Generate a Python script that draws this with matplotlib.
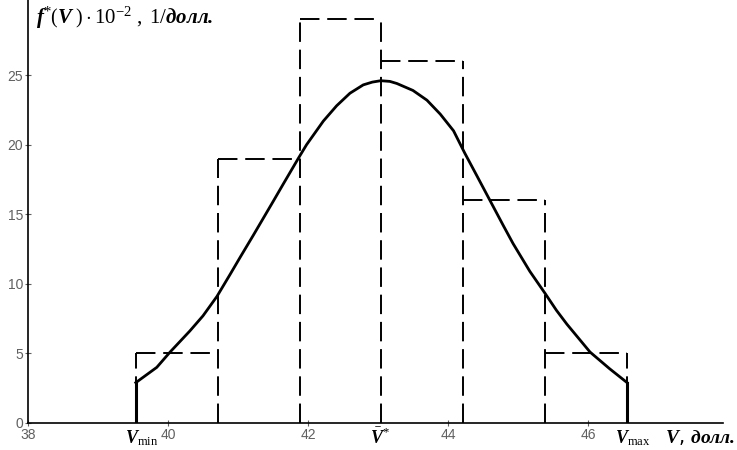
import matplotlib
matplotlib.use("Agg")
import matplotlib.pyplot as plt
import numpy as np

# histogram (bin edges, height in 10^-2 1/долл.)
bin_edges = [39.54, 40.71, 41.88, 43.05, 44.22, 45.39, 46.56]
freq = [5, 19, 29, 26, 16, 5]

# fitted density curve
curve_v = [39.54, 39.84, 40.03, 40.31, 40.50, 40.70, 40.89, 41.03, 41.22, 41.36,
           41.50, 41.65, 41.86, 41.98, 42.22, 42.41, 42.60, 42.79, 42.92, 43.04,
           43.17, 43.27, 43.50, 43.70, 43.89, 44.08, 44.24, 44.41, 44.60, 44.79,
           44.93, 45.17, 45.39, 45.55, 45.70, 46.03, 46.31, 46.56]
curve_f = [2.9, 4.0, 5.1, 6.6, 7.7, 9.1, 10.7, 11.9, 13.5, 14.7,
           15.9, 17.2, 19.0, 20.0, 21.7, 22.8, 23.7, 24.3, 24.5, 24.6,
           24.55, 24.4, 23.9, 23.2, 22.2, 21.0, 19.4, 17.8, 16.0, 14.2,
           12.9, 10.9, 9.3, 8.1, 7.1, 5.1, 3.9, 2.9]

v_min, v_mean, v_max = 39.54, 43.05, 46.56
xticks = [38, 40, 42, 44, 46]
yticks = [0, 5, 10, 15, 20, 25]

plt.rcParams['mathtext.fontset'] = 'custom'
plt.rcParams['mathtext.rm'] = 'Liberation Serif'
plt.rcParams['mathtext.it'] = 'Liberation Serif:italic'
plt.rcParams['mathtext.bf'] = 'Liberation Serif:italic:bold'

fig = plt.figure(figsize=(7.37, 4.5), dpi=100)
ax = fig.add_axes([28 / 737, 27 / 450, 695 / 737, 423 / 450])

# dashed histogram outline: tops and full-height edges
dash = (0, (10, 4))
ax.hlines(freq, bin_edges[:-1], bin_edges[1:], colors='black',
          linewidth=1.4, linestyles=[dash])
edge_h = []
for i in range(len(bin_edges)):
    left = freq[i - 1] if i > 0 else 0
    right = freq[i] if i < len(freq) else 0
    edge_h.append(max(left, right))
ax.vlines(bin_edges, 0, edge_h, colors='black', linewidth=1.4,
          linestyles=[dash])

ax.plot(curve_v, curve_f, color='black', linewidth=2.0,
        solid_joinstyle='round')
ax.plot([v_min, v_min], [0, curve_f[0]], color='black', linewidth=2.2)
ax.plot([v_max, v_max], [0, curve_f[-1]], color='black', linewidth=2.2)

ax.set_xlim(38, 47.93)
ax.set_ylim(0, 30.4)
for s in ['top', 'right']:
    ax.spines[s].set_visible(False)
for s in ['left', 'bottom']:
    ax.spines[s].set_linewidth(1.2)

ax.set_xticks(xticks)
ax.set_yticks(yticks)
ax.tick_params(direction='inout', length=5, width=0.8, labelsize=10,
               labelcolor='#606060', colors='#606060')
for lab in ax.get_xticklabels() + ax.get_yticklabels():
    lab.set_family('Liberation Sans')
ax.tick_params(axis='x', pad=1)
ax.tick_params(axis='y', pad=1)

lab_kw = dict(transform=ax.get_xaxis_transform(), va='center',
              fontsize=13, color='black')
ax.text(v_min + 0.08, -0.035, r'$\mathbf{V}_{\mathrm{min}}$', ha='center', **lab_kw)
ax.text(v_mean - 0.02, -0.035, r'$\bar{\mathbf{V}}^{*}$', ha='center', **lab_kw)
ax.text(v_max + 0.08, -0.035, r'$\mathbf{V}_{\mathrm{max}}$', ha='center', **lab_kw)
ax.text(47.1, -0.035, r'$\mathbf{V}$, ' + r'$\mathbf{долл.}$', ha='left',
        transform=ax.get_xaxis_transform(), va='center', fontsize=14,
        color='black')

ax.text(38.12, 29.1,
        r'$\mathbf{f}^{*}\left(\mathbf{V}^{\ }_{\ }\right)\cdot10^{-2}\mathrm{\ ,\ 1/}\mathbf{долл.}$',
        fontsize=15, ha='left', va='center', color='black')

fig.savefig('out.png', dpi=100)
